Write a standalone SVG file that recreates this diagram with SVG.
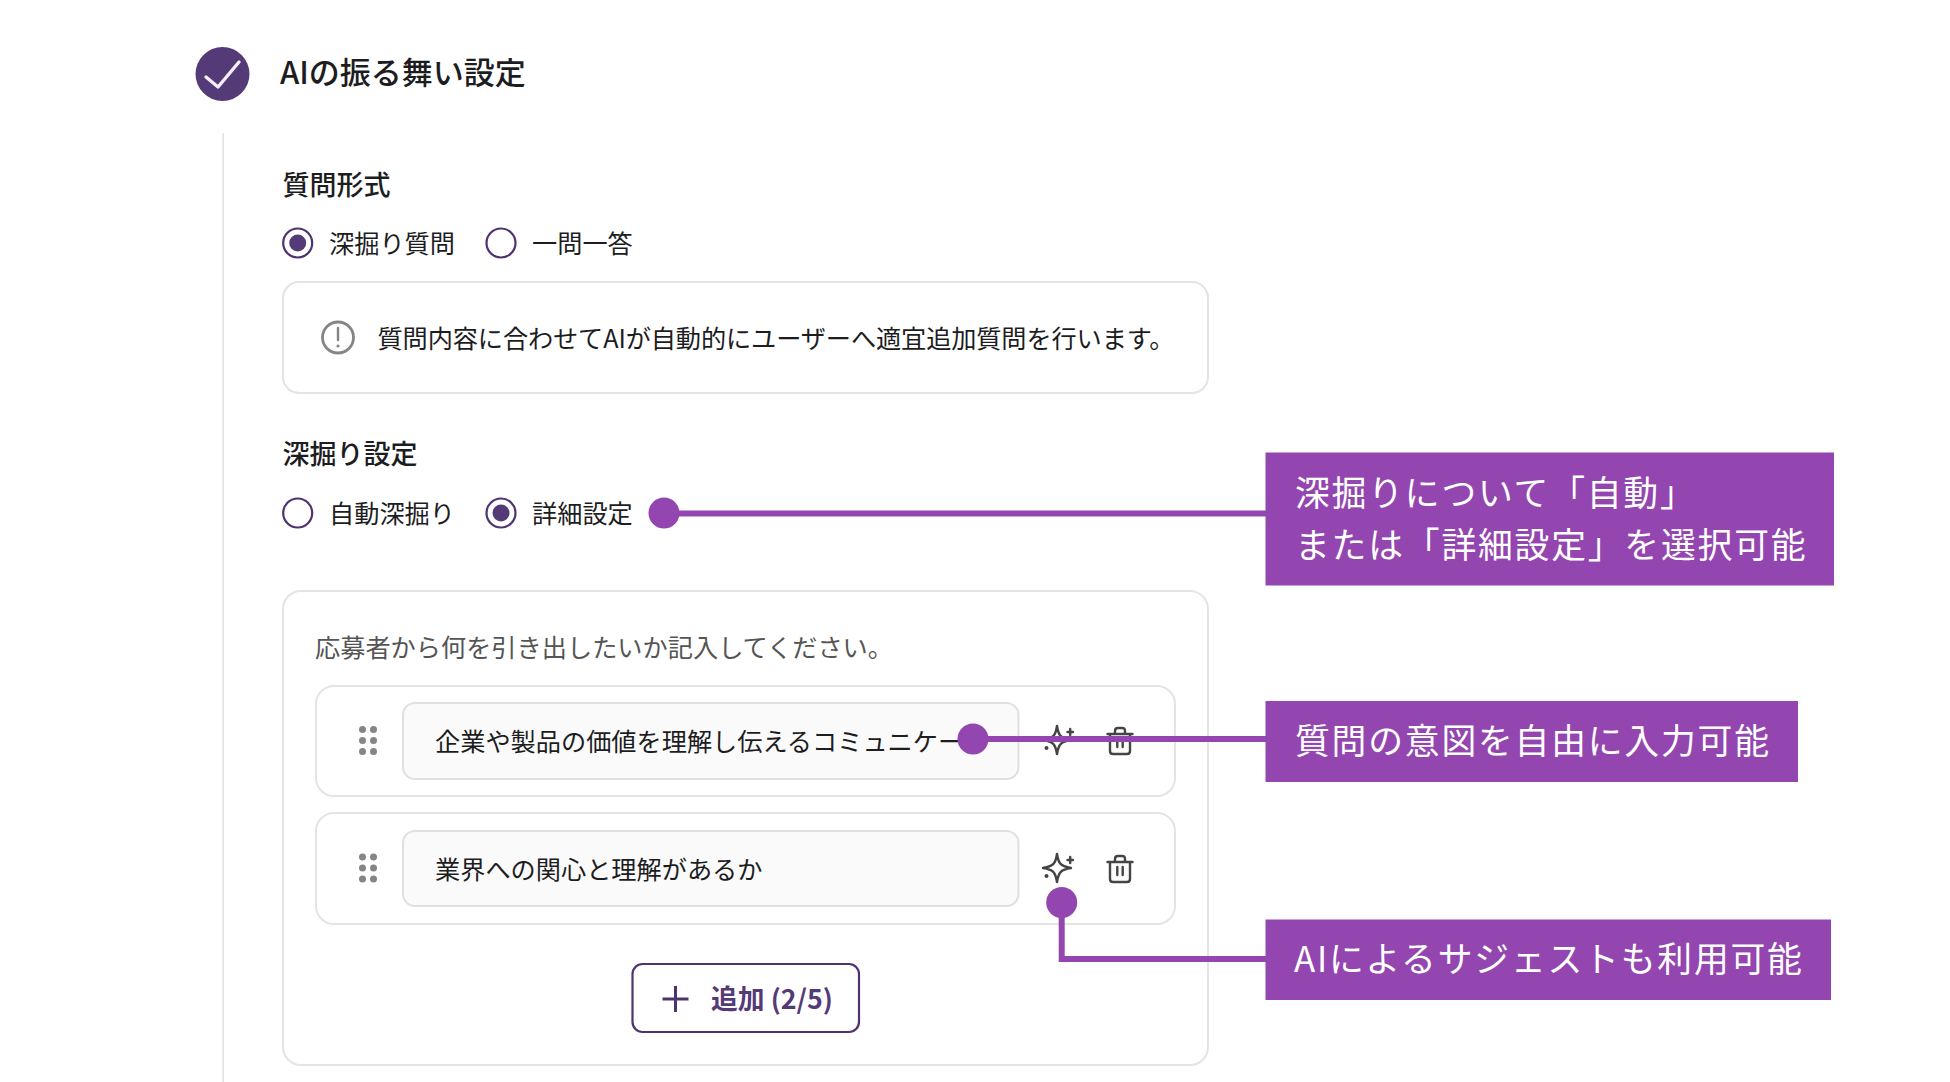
<svg xmlns="http://www.w3.org/2000/svg" width="1950" height="1082" viewBox="0 0 1950 1082">
<style>
text{font-family:"Noto Sans CJK JP","Noto Sans",sans-serif;fill:#1d1d1f}
.h{font-size:27px;font-weight:500}
.t{font-size:25.200px;font-weight:400}
.c{font-size:34.800px;letter-spacing:1.800px;fill:#fff;font-weight:400}
.box{fill:#fff;stroke:#e4e4e4;stroke-width:2}
.inp{fill:#fafafa;stroke:#e0e0e0;stroke-width:2}
.ro{fill:#fff;stroke:#4f3270;stroke-width:2.200}
.rd{fill:#553a78}
.call{fill:#9446b0}
.ln{fill:none;stroke:#9446b0;stroke-width:6}
.dot{fill:#9446b0}
.grip{fill:#858585}
.ic{fill:none;stroke:#444;stroke-width:2.400;stroke-linejoin:round;stroke-linecap:round}
</style>
<defs>
<g id="sparkle"><path class="ic" d="M0-14C1.500-4 4-1.500 14 0C4 1.500 1.500 4 0 14C-1.500 4-4 1.500-14 0C-4-1.500-1.500-4 0-14Z"/><path class="ic" d="M10.500-8H16M13.200-11V-5"/><circle cx="-10.500" cy="8" r="2" fill="#444"/></g>
<g id="trash"><path class="ic" d="M-12.500-7H12.500M-5-7V-10Q-5-13-2-13H2Q5-13 5-10V-7M-10-7V10Q-10 13-7 13H7Q10 13 10 10V-7M-2.700-2V6M2.700-2V6"/></g>
<g id="grip"><circle cx="362.500" cy="0" r="3.500" class="grip"/><circle cx="373.500" cy="0" r="3.500" class="grip"/><circle cx="362.500" cy="11" r="3.500" class="grip"/><circle cx="373.500" cy="11" r="3.500" class="grip"/><circle cx="362.500" cy="22" r="3.500" class="grip"/><circle cx="373.500" cy="22" r="3.500" class="grip"/></g>
</defs>
<rect width="1950" height="1082" fill="#fff"/>
<rect x="222.500" y="133" width="1.500" height="949" fill="#e2e2e2"/>
<g id="step-header">
<circle cx="222.500" cy="74" r="27" fill="#553a78"/>
<path d="M206 77L218 87L239 62" fill="none" stroke="#f3eef7" stroke-width="3.400" stroke-linecap="round" stroke-linejoin="round"/>
<text x="280" y="84" font-size="31" font-weight="500">AIの振る舞い設定</text>
</g>
<g id="question-format">
<text class="h" x="282.500" y="195">質問形式</text>
<circle class="ro" cx="297.700" cy="243" r="14.500"/><circle class="rd" cx="297.700" cy="243" r="8.500"/>
<text class="t" x="329" y="253">深掘り質問</text>
<circle class="ro" cx="501" cy="243" r="14.500"/>
<text class="t" x="532" y="253">一問一答</text>
</g>
<g id="info-box">
<rect class="box" x="283" y="282" width="925" height="111" rx="16"/>
<circle cx="338" cy="337.500" r="15.500" fill="none" stroke="#858585" stroke-width="2.800"/>
<path d="M338 328V340" stroke="#858585" stroke-width="2.400" stroke-linecap="round"/><circle cx="338" cy="346" r="1.600" fill="#858585"/>
<text class="t" x="377.500" y="348" textLength="797" lengthAdjust="spacing">質問内容に合わせてAIが自動的にユーザーへ適宜追加質問を行います。</text>
</g>
<g id="depth-settings">
<text class="h" x="282.500" y="464">深掘り設定</text>
<circle class="ro" cx="297.700" cy="513" r="14.500"/>
<text class="t" x="329" y="522.500">自動深掘り</text>
<circle class="ro" cx="501" cy="513" r="14.500"/><circle class="rd" cx="501" cy="513" r="8.500"/>
<text class="t" x="532" y="522.500">詳細設定</text>
</g>
<g id="panel">
<rect class="box" x="283" y="591" width="925" height="474" rx="18"/>
<text class="t" x="315" y="657" style="fill:#555" textLength="578" lengthAdjust="spacing">応募者から何を引き出したいか記入してください。</text>
</g>
<g id="row-1">
<rect class="box" x="316" y="686" width="859" height="110" rx="18"/>
<use href="#grip" y="729.500"/>
<rect class="inp" x="403" y="703" width="615.500" height="76" rx="12"/>
<text class="t" x="435" y="751">企業や製品の価値を理解し伝えるコミュニケー</text>
<use href="#sparkle" x="1057" y="740"/><use href="#trash" x="1120" y="741"/>
</g>
<g id="row-2">
<rect class="box" x="316" y="813" width="859" height="111" rx="18"/>
<use href="#grip" y="857"/>
<rect class="inp" x="403" y="831" width="615.500" height="75" rx="12"/>
<text class="t" x="435" y="879">業界への関心と理解があるか</text>
<use href="#sparkle" x="1057" y="868"/><use href="#trash" x="1120" y="869"/>
</g>
<g id="add-button">
<rect x="632.500" y="964" width="226.500" height="68" rx="10" fill="#fff" stroke="#4f3270" stroke-width="2.200"/>
<path d="M675.500 986V1012M662.500 999H688.500" stroke="#4f3270" stroke-width="3" fill="none"/>
<text x="711" y="1009" font-size="26.800" font-weight="700" style="fill:#553a78">追加 (2/5)</text>
</g>
<g id="connectors">
<path class="ln" d="M664 513.500H1266"/><circle class="dot" cx="664" cy="513" r="15.500"/>
<path class="ln" d="M973 739H1266"/><circle class="dot" cx="973" cy="739" r="15.500"/>
<path class="ln" d="M1061.700 902V959H1266"/><circle class="dot" cx="1061.700" cy="902.500" r="15.500"/>
</g>
<g id="callout-1">
<rect class="call" x="1265.500" y="452.500" width="568.500" height="133"/>
<text class="c" x="1295" y="506">深掘りについて「自動」</text>
<text class="c" x="1295" y="558">または「詳細設定」を選択可能</text>
</g>
<g id="callout-2">
<rect class="call" x="1265.500" y="701" width="532.500" height="81"/>
<text class="c" x="1295" y="754">質問の意図を自由に入力可能</text>
</g>
<g id="callout-3">
<rect class="call" x="1265.500" y="919.500" width="565.500" height="80.500"/>
<text class="c" x="1294" y="972">AIによるサジェストも利用可能</text>
</g>
</svg>
